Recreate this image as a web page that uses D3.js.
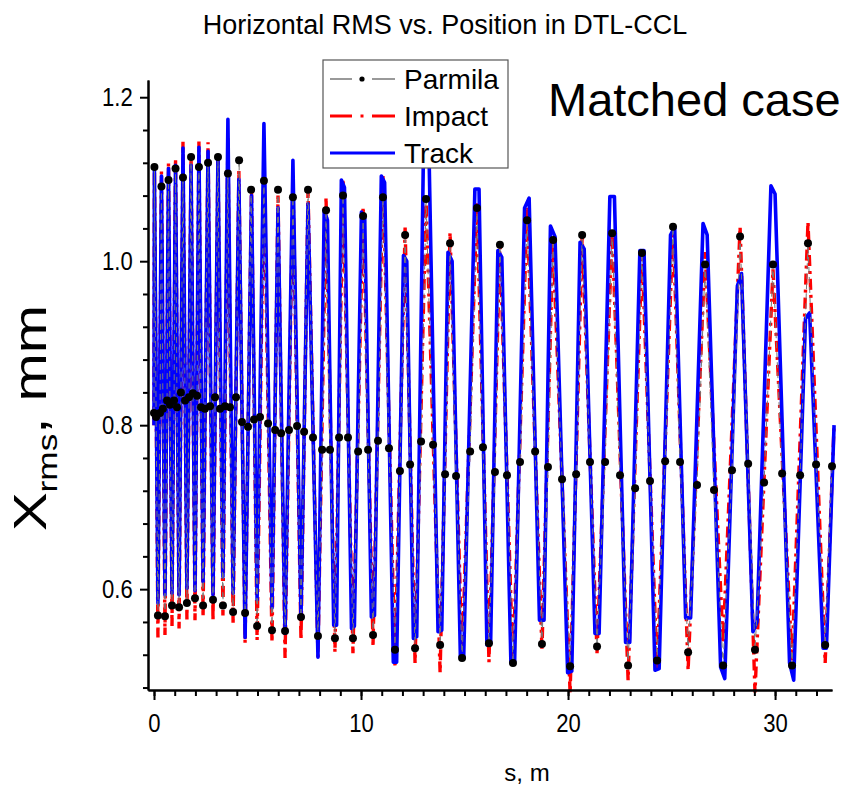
<!DOCTYPE html>
<html>
<head>
<meta charset="utf-8">
<script src="https://cdn.jsdelivr.net/npm/d3@7"></script>
<style>
  body { margin: 0; background: #fff; }
  svg { display: block; font-family: "Liberation Sans", Arial, sans-serif; }
</style>
</head>
<body>
<svg id="chart" width="850" height="785"></svg>
<script>
// ─── Data ───────────────────────────────────────────────────────────────────
// Track (blue solid): vertices of the zig-zag, s in metres, x_rms in mm
const trackS = [0.00,
  0.02,0.19,0.36,0.53,0.70,0.87,1.04,1.21,1.40,1.59,1.79,1.98,2.17,2.37,2.61,2.85,
  3.09,3.33,3.57,3.82,4.10,4.40,4.71,4.98,5.31,5.70,5.99,6.33,6.71,7.10,7.44,7.92,
  8.22,8.38,8.68,8.82,9.05,9.20,9.54,9.68,10.02,10.18,10.50,10.65,10.98,11.14,11.56,11.72,
  12.05,12.21,12.53,12.69,13.03,13.27,13.72,13.90,14.20,14.40,14.80,14.96,15.50,15.70,16.08,16.26,
  16.61,16.80,17.24,17.42,17.90,18.12,18.62,18.84,19.15,19.37,19.98,20.18,20.58,20.78,21.30,21.50,
  22.02,22.24,22.78,22.98,23.47,23.67,24.20,24.40,24.95,25.15,25.68,25.92,26.52,26.72,27.37,27.57,
  28.18,28.38,28.93,29.13,29.80,30.00,30.70,30.90,31.47,31.67,32.32,32.48,32.85];
const trackX = [0.80,
  1.110,0.583,1.104,0.593,1.113,0.595,1.117,0.593,1.138,0.601,1.117,0.598,1.139,0.609,1.134,0.593,
  1.129,0.615,1.173,0.595,1.100,0.541,1.080,0.587,1.168,0.577,1.065,0.546,1.123,0.566,1.070,0.517,
  1.062,1.050,0.556,0.556,1.099,1.090,0.552,0.555,1.060,1.052,0.566,0.568,1.104,1.096,0.511,0.511,
  1.007,1.000,0.540,0.542,1.160,1.150,0.548,0.550,1.011,1.000,0.517,0.517,1.088,1.088,0.532,0.534,
  1.013,1.005,0.510,0.512,1.065,1.077,0.562,0.562,1.043,1.030,0.498,0.500,1.023,1.015,0.546,0.546,
  1.079,1.079,0.535,0.535,1.013,1.013,0.501,0.503,1.032,1.042,0.565,0.565,1.046,1.032,0.505,0.491,
  0.970,0.985,0.548,0.560,1.092,1.082,0.510,0.489,0.930,0.937,0.528,0.528,0.80];

// Impact (red dash-dot)
const impactS = [0.00,
  0.02,0.19,0.36,0.53,0.70,0.87,1.04,1.21,1.40,1.59,1.79,1.98,2.17,2.37,2.61,2.85,
  3.09,3.33,3.57,3.82,4.10,4.40,4.71,4.98,5.31,5.70,5.99,6.33,6.71,7.10,7.44,7.92,
  8.31,8.74,9.13,9.61,10.10,10.58,11.06,11.64,12.13,12.61,13.14,13.82,14.30,14.88,15.60,16.18,
  16.71,17.34,18.02,18.74,19.27,20.10,20.68,21.40,22.13,22.90,23.57,24.30,25.07,25.80,26.62,27.49,
  28.31,29.03,29.90,30.82,31.59,32.42,32.85];
const impactX = [0.80,
  1.115,0.541,1.110,0.544,1.120,0.555,1.125,0.552,1.146,0.563,1.130,0.562,1.146,0.566,1.145,0.562,
  1.130,0.568,1.150,0.559,1.110,0.534,1.090,0.538,1.120,0.535,1.080,0.516,1.100,0.538,1.085,0.517,
  1.078,0.523,1.100,0.522,1.066,0.532,1.104,0.507,1.041,0.510,1.075,0.498,1.035,0.517,1.072,0.511,
  1.023,0.504,1.065,0.526,1.026,0.473,1.032,0.522,1.038,0.489,1.013,0.501,1.042,0.501,1.011,0.534,
  1.042,0.474,0.990,0.513,1.048,0.510,0.80];

// Parmila (black dots on a grey dashed line): peak, mid, trough, mid per period
const parmilaS = [0.00,
  0.02,0.10,0.19,0.29, 0.36,0.43,0.53,0.63, 0.70,0.77,0.87,0.97, 1.04,1.11,1.21,1.30,
  1.40,1.50,1.59,1.69, 1.79,1.88,1.98,2.08, 2.17,2.27,2.37,2.46, 2.61,2.71,2.85,2.95,
  3.09,3.19,3.33,3.43, 3.57,3.67,3.82,3.96, 4.11,4.25,4.40,4.54, 4.69,4.83,4.98,5.12,
  5.31,5.51,5.70,5.85, 5.99,6.14,6.33,6.52, 6.71,6.91,7.10,7.25, 7.44,7.68,7.92,8.12,
  8.31,8.50,8.74,8.94, 9.13,9.37,9.61,9.86, 10.10,10.34,10.58,10.82, 11.06,11.35,11.64,11.88,
  12.13,12.37,12.61,12.90, 13.14,13.48,13.82,14.06, 14.30,14.59,14.88,15.27, 15.60,15.89,16.18,16.47,
  16.71,17.05,17.34,17.68, 18.02,18.41,18.74,19.03, 19.28,19.71,20.10,20.39, 20.68,21.06,21.40,21.79,
  22.13,22.51,22.90,23.24, 23.57,23.96,24.30,24.69, 25.07,25.41,25.80,26.23, 26.62,27.05,27.49,27.92,
  28.31,28.70,29.03,29.47, 29.90,30.34,30.82,31.21, 31.59,31.98,32.42,32.75];
const parmilaX = [0.815,
  1.115,0.810,0.568,0.815, 1.091,0.820,0.567,0.830, 1.099,0.825,0.580,0.830, 1.113,0.822,0.578,0.840,
  1.102,0.830,0.583,0.834, 1.127,0.839,0.589,0.836, 1.115,0.822,0.580,0.820, 1.120,0.823,0.587,0.834,
  1.127,0.820,0.580,0.823, 1.107,0.822,0.572,0.834, 1.123,0.804,0.571,0.798, 1.087,0.807,0.555,0.810,
  1.098,0.802,0.550,0.794, 1.087,0.790,0.549,0.794, 1.078,0.799,0.566,0.792, 1.087,0.785,0.543,0.770,
  1.062,0.770,0.540,0.785, 1.080,0.785,0.540,0.768, 1.055,0.770,0.544,0.781, 1.078,0.772,0.526,0.744,
  1.032,0.752,0.528,0.780, 1.076,0.776,0.532,0.740, 1.022,0.738,0.516,0.768, 1.065,0.773,0.534,0.743,
  1.020,0.739,0.510,0.755, 1.050,0.768,0.533,0.749, 1.026,0.734,0.506,0.740, 1.032,0.755,0.530,0.755,
  1.034,0.739,0.507,0.723, 1.010,0.732,0.513,0.756, 1.042,0.755,0.523,0.727, 0.996,0.721,0.507,0.745,
  1.030,0.753,0.526,0.730, 0.996,0.741,0.507,0.739, 1.022,0.752,0.532,0.750];

// Axis ticks
const xMajor = [0, 10, 20, 30];
const xMinor = d3.range(0, 33, 1);
const yMajor = [0.6, 0.8, 1.0, 1.2];
const yMinor = [0.48,0.52,0.56,0.64,0.68,0.72,0.76,0.84,0.88,0.92,0.96,1.04,1.08,1.12,1.16];

const legendItems = ['Parmila', 'Impact', 'Track'];

// ─── Layout ─────────────────────────────────────────────────────────────────
const PLOT = { left: 148, right: 832, top: 80, bottom: 690 };
const FONT = '"Liberation Sans", Arial, sans-serif';

const svg = d3.select('#chart');

const x = d3.scaleLinear().domain([-0.29, 32.75]).range([PLOT.left, PLOT.right]);
const y = d3.scaleLinear().domain([0.477, 1.221]).range([PLOT.bottom, PLOT.top]);

const pts = (s, v) => s.map((d, i) => [d, v[i]]);
const line = d3.line().x(d => x(d[0])).y(d => y(d[1]));

// ── Series ─────────────────────────────────────────────────────────────────
svg.append('path')
  .attr('d', line(pts(impactS, impactX)))
  .attr('fill', 'none')
  .attr('stroke', '#ff0000')
  .attr('stroke-width', 3.4)
  .attr('stroke-dasharray', '11,5,3,5');

svg.append('path')
  .attr('d', line(pts(trackS, trackX)))
  .attr('fill', 'none')
  .attr('stroke', '#0000ff')
  .attr('stroke-width', 3.6)
  .attr('stroke-linejoin', 'round');

const parmila = pts(parmilaS, parmilaX);
svg.append('path')
  .attr('d', line(parmila))
  .attr('fill', 'none')
  .attr('stroke', '#777')
  .attr('stroke-width', 1)
  .attr('stroke-dasharray', '6,4');

svg.append('g')
  .selectAll('circle')
  .data(parmila)
  .join('circle')
  .attr('cx', d => x(d[0]))
  .attr('cy', d => y(d[1]))
  .attr('r', 4)
  .attr('fill', '#000');

// ── Axes ───────────────────────────────────────────────────────────────────
// Tick digits in the original are tall and narrow: larger font, squeezed in x.
function styleAxis(g) {
  g.selectAll('path, line').attr('stroke', '#000').attr('stroke-width', 2);
  g.selectAll('text')
    .attr('fill', '#000')
    .attr('transform', 'scale(0.85,1)')
    .style('font-family', FONT)
    .style('font-size', '26px');
}

svg.append('g')
  .attr('transform', `translate(0,${PLOT.bottom})`)
  .call(d3.axisBottom(x).tickValues(xMinor).tickSize(6).tickSizeOuter(0).tickFormat(''))
  .call(styleAxis);
svg.append('g')
  .attr('transform', `translate(0,${PLOT.bottom})`)
  .call(d3.axisBottom(x).tickValues(xMajor).tickSize(10).tickSizeOuter(0).tickPadding(14).tickFormat(d3.format('d')))
  .call(styleAxis);

svg.append('g')
  .attr('transform', `translate(${PLOT.left},0)`)
  .call(d3.axisLeft(y).tickValues(yMinor).tickSize(5).tickSizeOuter(0).tickFormat(''))
  .call(styleAxis);
svg.append('g')
  .attr('transform', `translate(${PLOT.left},0)`)
  .call(d3.axisLeft(y).tickValues(yMajor).tickSize(8).tickSizeOuter(0).tickPadding(10).tickFormat(d3.format('.1f')))
  .call(styleAxis);

// ── Titles ─────────────────────────────────────────────────────────────────
svg.append('text')
  .attr('x', 445).attr('y', 34)
  .attr('text-anchor', 'middle')
  .style('font-size', '27px')
  .text('Horizontal RMS vs. Position in DTL-CCL');

svg.append('text')
  .attr('x', 527).attr('y', 781)
  .attr('text-anchor', 'middle')
  .style('font-size', '24px')
  .text('s, m');

const yLab = svg.append('text')
  .attr('transform', 'translate(46,418) rotate(-90) scale(1.26,1)')
  .attr('text-anchor', 'middle')
  .style('font-size', '46px');
yLab.append('tspan').text('X');
yLab.append('tspan').attr('dy', 11).style('font-size', '28px').text('rms');
yLab.append('tspan').attr('dy', -11).text(', mm');

svg.append('text')
  .attr('x', 548).attr('y', 116)
  .style('font-size', '47px')
  .text('Matched case');

// ── Legend ─────────────────────────────────────────────────────────────────
const legend = svg.append('g');
legend.append('rect')
  .attr('x', 323).attr('y', 60).attr('width', 185).attr('height', 108)
  .attr('fill', '#fff').attr('stroke', '#555').attr('stroke-width', 1.2);

const rowY = d3.scalePoint().domain(legendItems).range([79, 153]);
const row = legend.selectAll('g.row').data(legendItems).join('g')
  .attr('transform', d => `translate(0,${rowY(d)})`);

row.append('text')
  .attr('x', 404).attr('y', 0).attr('dy', '0.36em')
  .style('font-size', '28px')
  .text(d => d);

// Parmila sample: grey dashes and a black dot
const parm = legend.append('g').attr('transform', `translate(0,${rowY('Parmila')})`);
parm.append('line').attr('x1', 330).attr('x2', 352).attr('stroke', '#777').attr('stroke-width', 1.5);
parm.append('line').attr('x1', 372).attr('x2', 395).attr('stroke', '#777').attr('stroke-width', 1.5);
parm.append('circle').attr('cx', 362).attr('r', 2.6).attr('fill', '#000');

// Impact sample: red dash, dot, dash
const imp = legend.append('g').attr('transform', `translate(0,${rowY('Impact')})`);
imp.append('line').attr('x1', 330).attr('x2', 352).attr('stroke', '#f00').attr('stroke-width', 3);
imp.append('line').attr('x1', 372).attr('x2', 395).attr('stroke', '#f00').attr('stroke-width', 3);
imp.append('rect').attr('x', 360.5).attr('y', -1.5).attr('width', 3).attr('height', 3).attr('fill', '#f00');

// Track sample: solid blue
legend.append('line')
  .attr('x1', 330).attr('x2', 395)
  .attr('y1', rowY('Track')).attr('y2', rowY('Track'))
  .attr('stroke', '#00f').attr('stroke-width', 3);
</script>
</body>
</html>
